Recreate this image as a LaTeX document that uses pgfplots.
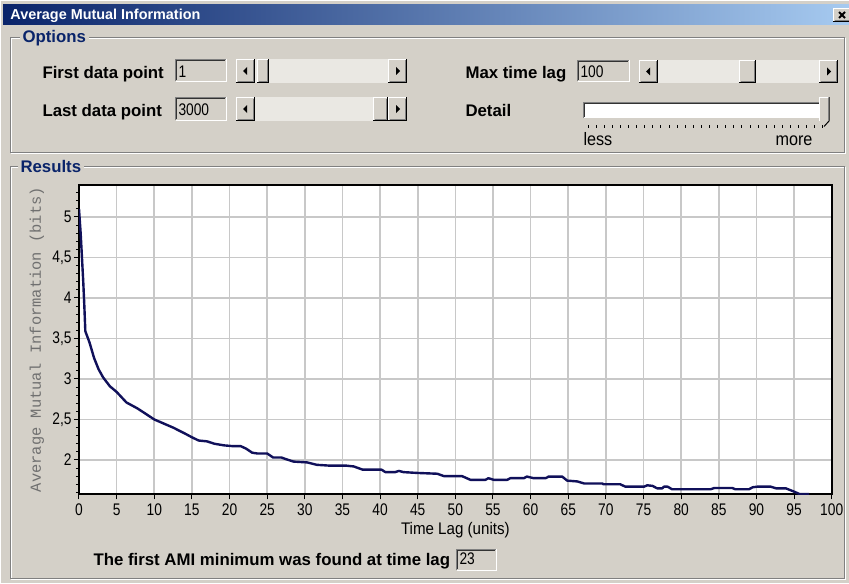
\documentclass[border=0pt]{standalone}
\usepackage{fontspec}
\usepackage{pgfplots}
\pgfplotsset{compat=1.18}
\setmainfont{Liberation Sans}
\newfontfamily\narrow[FakeStretch=0.82]{Liberation Sans}
\newfontfamily\semi[FakeStretch=0.9]{Liberation Sans}
\newfontfamily\monof{Liberation Mono}

\definecolor{winbg}{HTML}{D4D0C8}
\definecolor{winshadow}{HTML}{808080}
\definecolor{navy}{HTML}{0A246A}
\definecolor{titleR}{HTML}{A6CAF0}
\definecolor{track}{HTML}{EAE8E3}
\definecolor{curve}{HTML}{10105A}
\definecolor{gridc}{HTML}{C8C8C8}
\definecolor{ylab}{HTML}{707070}

\newcommand\lbl{\bfseries\fontsize{8.4}{10}\selectfont}
\newcommand\numf{\narrow\fontsize{8.4}{10}\selectfont}
\newcommand\smallf{\semi\fontsize{9}{10}\selectfont}

% classic raised / sunken boxes, pixel coords (y down)
\newcommand\raised[4]{%
  \fill[winbg] (#1,#2) rectangle (#3,#4);
  \draw[white] (#1+0.5,#4-1) |- (#3-1,#2+0.5);
  \draw[winshadow] (#1+1.5,#4-1.5) -| (#3-1.5,#2+1.5);
  \draw[black] (#1,#4-0.5) -| (#3-0.5,#2);}
\newcommand\sunken[4]{%
  \fill[winbg] (#1,#2) rectangle (#3,#4);
  \draw[winshadow] (#1+0.5,#4-1) |- (#3-1,#2+0.5);
  \draw[black!80] (#1+1.5,#4-2) |- (#3-2,#2+1.5);
  \draw[white] (#1+0.5,#4-0.5) -| (#3-0.5,#2);}
% scrollbar: x1,y1,x2,y2,thumb x1,thumb x2
\newcommand\scrollbar[6]{%
  \fill[track] (#1,#2) rectangle (#3,#4);
  \raised{#1}{#2}{#1+19}{#4}
  \raised{#3-19}{#2}{#3}{#4}
  \raised{#5}{#2}{#6}{#4}
  \fill (#1+11,#2/2+#4/2-4) -- (#1+7,#2/2+#4/2) -- (#1+11,#2/2+#4/2+4) -- cycle;
  \fill (#3-11,#2/2+#4/2-4) -- (#3-7,#2/2+#4/2) -- (#3-11,#2/2+#4/2+4) -- cycle;}

\begin{document}
\begin{tikzpicture}[x=0.5pt,y=0.5pt,line width=0.5pt]
\useasboundingbox (0,0) rectangle (849,-583);
\clip (0,0) rectangle (849,-583);
\coordinate (plotSW) at (79,-494.3);
\begin{scope}[yscale=-1]
\fill[winbg] (0,0) rectangle (849,583);
\draw[white] (0.5,583) -- (0.5,0.5) -- (849,0.5);
% title bar
\shade[left color=navy,right color=titleR] (3,5) rectangle (849,25);
\node[anchor=base west,text=white,font=\bfseries\fontsize{7.2}{8}\selectfont,inner sep=0] at (10,20) {Average Mutual Information};
\raised{833}{8}{851}{22}
\draw[line width=1pt] (839,12) -- (845,18) (845,12) -- (839,18);

% Options group
\draw[white] (11,39) rectangle (845,153);
\draw[winshadow] (10,38) rectangle (844,152);
\node[anchor=west,fill=winbg,inner xsep=1.5pt,inner ysep=0pt,text=navy,font=\lbl] at (19,38) {Options};

\node[anchor=base west,inner sep=0,font=\lbl] at (42,78) {First data point};
\sunken{175}{59}{227}{82}
\node[anchor=base west,inner sep=0,font=\numf] at (178,77) {1};
\scrollbar{236}{59}{407}{83}{257}{269}

\node[anchor=base west,inner sep=0,font=\lbl] at (42,116.5) {Last data point};
\sunken{175}{97}{227}{121}
\node[anchor=base west,inner sep=0,font=\numf] at (178,115.5) {3000};
\scrollbar{236}{97}{407}{121}{373}{388}

\node[anchor=base west,inner sep=0,font=\lbl] at (465,78) {Max time lag};
\sunken{577}{60}{630}{82}
\node[anchor=base west,inner sep=0,font=\numf] at (580,77) {100};
\scrollbar{639}{60}{838}{83}{739}{756}

\node[anchor=base west,inner sep=0,font=\lbl] at (465,116.5) {Detail};
\fill[white] (583,102) rectangle (827,118);
\draw[winshadow] (583.5,118) |- (827,102.5);
\draw[black!80] (584.5,117) |- (826,103.5);
\fill[winbg] (819,97) -- (829,97) -- (829,121) -- (824,126) -- (819,121) -- cycle;
\draw[white] (819.5,121) -- (819.5,97.5) -- (828.5,97.5);
\draw[black] (829,97) -- (829,121) -- (824,126.5);
\draw[winshadow] (828,98) -- (828,120.5);
\foreach \i in {0,...,29} \draw[black] ({588+\i*8.1},125) -- ++(0,3);
\node[anchor=base west,inner sep=0,font=\smallf] at (583,145) {less};
\node[anchor=base west,inner sep=0,font=\smallf] at (775,145) {more};

% Results group
\draw[white] (11,167) rectangle (845,579);
\draw[winshadow] (10,166) rectangle (844,578);
\node[anchor=west,fill=winbg,inner xsep=1.5pt,inner ysep=0pt,text=navy,font=\lbl] at (17,166) {Results};

\node[anchor=base west,inner sep=0,font=\lbl] at (93,565) {The first AMI minimum was found at time lag};
\sunken{456}{549}{497}{571}
\node[anchor=base west,inner sep=0,font=\numf] at (459,564) {23};
\end{scope}

\begin{axis}[
  at={(plotSW)}, anchor=south west,
  scale only axis, width=376.35pt, height=154.65pt,
  xmin=0, xmax=100, ymin=1.576, ymax=5.395,
  xtick distance=5, ytick={2,2.5,...,5},
  minor ytick={1.6,1.7,...,5.35},
  xtick pos=left, ytick pos=left,
  tick align=outside, major tick length=2.5pt, minor tick length=1.5pt,
  grid=major, major grid style={gridc, line width=0.8pt},
  axis line style={black, line width=0.9pt},
  tick style={black, line width=0.5pt},
  axis background/.style={fill=white},
  /pgf/number format/use comma,
  /pgf/number format/fixed,
  /pgf/number format/assume math mode=true,
  ticklabel style={font=\numf},
  xticklabel style={inner sep=2pt},
  yticklabel style={inner sep=1pt},
  xlabel={Time Lag (units)},
  ylabel={Average Mutual Information (bits)},
  xlabel style={at={(axis description cs:0.5,-0.115)}, anchor=center, font=\semi\fontsize{8.4}{10}\selectfont},
  ylabel style={at={(axis description cs:-0.056,0.5)}, anchor=center, font=\monof\fontsize{7.7}{8}\selectfont, text=ylab},
]
\addplot[curve, line width=1.2pt, line join=round] coordinates {
(0,5.10) (0.22,4.80) (0.40,4.49) (0.57,4.19) (0.71,3.90) (0.84,3.59)
(1.0,3.55) (1.4,3.45) (2.0,3.26) (2.6,3.12) (3.2,3.02) (4.1,2.91)
(5,2.84) (6.3,2.71) (7.7,2.64) (8.7,2.58) (10,2.50) (11,2.46)
(12.5,2.40) (14,2.33) (15,2.28) (15.9,2.24) (17,2.23) (18,2.20)
(19.3,2.18) (20.5,2.17) (21.5,2.17) (22.2,2.14) (23,2.09) (23.7,2.08)
(25.0,2.08) (25.8,2.03) (26.9,2.03) (27.5,2.01) (28.5,1.98) (30.3,1.97)
(31.6,1.94) (33.3,1.93) (35.5,1.93) (36.5,1.92) (37.7,1.88) (40.2,1.88)
(40.7,1.85) (42.0,1.85) (42.5,1.865) (43.1,1.85) (44.9,1.84) (47.6,1.83)
(48.5,1.80) (50.9,1.80) (52,1.755) (54,1.755) (54.4,1.775) (55.1,1.755)
(56.9,1.755) (57.3,1.775) (59.1,1.775) (59.5,1.795) (60.4,1.775) (62.0,1.775)
(62.4,1.795) (64.2,1.795) (64.85,1.745) (66.2,1.735) (67.1,1.71) (69.5,1.71)
(69.7,1.70) (71.9,1.70) (72.6,1.67) (75.05,1.67) (75.5,1.687) (76.2,1.68)
(76.8,1.65) (77.5,1.65) (77.7,1.67) (78.2,1.67) (78.8,1.638) (83.9,1.638)
(84.4,1.654) (86.8,1.654) (87.2,1.638) (89.0,1.638) (89.5,1.663) (90.1,1.67)
(91.9,1.67) (92.6,1.65) (93.9,1.65) (95.0,1.609) (95.7,1.58) (97.0,1.578)
};
\end{axis}
\end{tikzpicture}
\end{document}
